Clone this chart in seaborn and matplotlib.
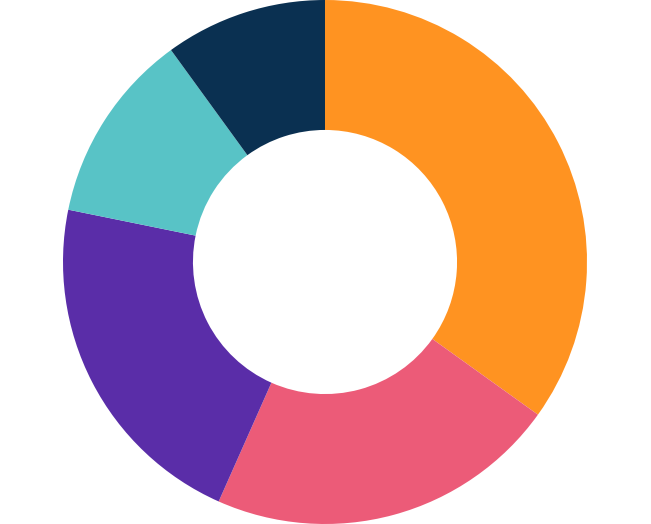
import matplotlib
matplotlib.use("Agg")
import matplotlib.pyplot as plt
import seaborn as sns

## Slice data (clockwise from 12 o'clock)
categories = ['A', 'B', 'C', 'D', 'E']
values = [34.9, 21.75, 21.55, 11.8, 10.0]
colors = ['#FF9321', '#EC5B78', '#5A2DA8', '#58C3C6', '#0A3051']

sns.set_style('white')

fig = plt.figure(figsize=(6.51, 5.24), dpi=100)
ax = fig.add_axes([0, 0, 1, 1])
ax.pie(values, labels=None, colors=colors, startangle=90, counterclock=False,
       radius=1.0, wedgeprops={'width': 0.496, 'linewidth': 0, 'antialiased': True})
ax.set_aspect('equal')
ax.set_xlim(-325 / 262, 326 / 262)
ax.set_ylim(-1, 1)
ax.axis('off')

plt.savefig('out.png', dpi=100, facecolor='white')
